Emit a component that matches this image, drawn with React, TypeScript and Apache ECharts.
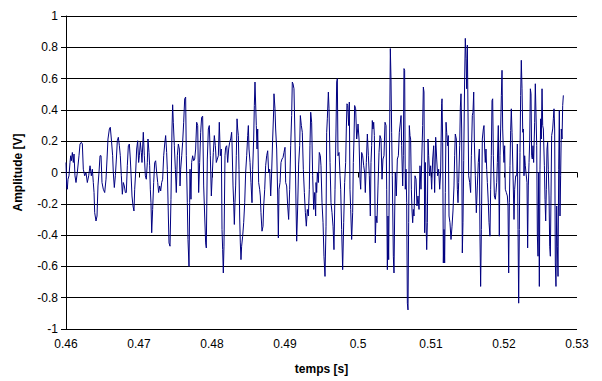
import React, { useEffect, useRef } from "react";
import * as echarts from "echarts";

// Signal samples: [time (s), amplitude (V)]
const seg1: [number, number][] = [
  [0.46, 0.064], [0.46009, -0.086], [0.46018, -0.107], [0.46027, -0.043], [0.46041, -0.021], [0.46055, 0.064],
  [0.46064, 0.107], [0.46073, 0.075], [0.46087, 0.128], [0.461, 0.064], [0.4611, 0.118], [0.46123, -0.021],
  [0.46137, -0.064], [0.46155, 0], [0.46178, 0.107], [0.46192, 0.182], [0.4621, 0.193], [0.46224, 0.182],
  [0.46237, 0.021], [0.46256, -0.021], [0.46274, 0], [0.46292, -0.064], [0.46311, -0.021], [0.46329, 0.043],
  [0.46347, -0.021], [0.46361, 0.021], [0.46374, -0.064], [0.46384, -0.128], [0.46393, -0.257], [0.46411, -0.31],
  [0.46425, -0.278], [0.46438, -0.086], [0.46452, 0], [0.46466, 0.107], [0.4648, 0.107], [0.46493, -0.064],
  [0.46511, -0.107], [0.4653, -0.128], [0.46548, -0.043],
];
const seg2: [number, number][] = [
  [0.46562, 0.086], [0.46575, 0.214], [0.46594, 0.278], [0.46607, 0.289], [0.46621, 0.214], [0.46639, 0.107],
  [0.46648, 0], [0.46662, -0.096], [0.46676, -0.021], [0.4669, 0.086], [0.46703, 0.203], [0.46717, 0.225],
  [0.46731, 0.171], [0.46744, 0.107], [0.46758, -0.021], [0.46772, -0.139], [0.46785, -0.064], [0.46799, -0.086],
  [0.46813, -0.128], [0.46826, -0.128], [0.4684, 0.043], [0.46854, 0.171], [0.46868, 0.182], [0.46881, 0.086],
  [0.4689, 0], [0.46904, -0.15], [0.46918, -0.214], [0.46931, -0.246], [0.46941, -0.107], [0.46954, 0],
  [0.46968, 0.15], [0.46982, 0.203], [0.46995, 0.064], [0.47005, 0.107], [0.47018, 0.193], [0.47032, 0.128],
  [0.47041, 0.064], [0.47059, 0.257], [0.47073, 0.107], [0.47087, -0.021], [0.471, -0.043], [0.47114, 0.064],
];
const seg3: [number, number][] = [
  [0.47123, 0.214], [0.47137, 0.128], [0.47146, 0.043], [0.47155, -0.107], [0.47164, -0.193], [0.47174, -0.385],
  [0.47187, -0.236], [0.47201, -0.064], [0.47215, 0.064], [0.47228, 0.075], [0.47242, 0], [0.47256, -0.064],
  [0.47269, -0.128], [0.47283, -0.086], [0.47297, -0.118], [0.47311, -0.064], [0.47324, -0.043], [0.47338, 0.107],
  [0.47352, 0.182], [0.47365, 0.236], [0.47379, 0.128], [0.47388, 0.021], [0.47402, -0.278], [0.47411, -0.45],
  [0.47425, -0.471], [0.47438, -0.171], [0.47452, 0.278], [0.47461, 0.433], [0.4747, 0.321], [0.47484, 0.171],
  [0.47498, 0.021], [0.47511, -0.128], [0.47525, 0.107], [0.47539, 0.182], [0.47553, 0.15], [0.47562, -0.086],
  [0.47571, 0.021], [0.47585, 0.107], [0.47598, 0.193], [0.47612, 0.321], [0.47626, 0.471], [0.47639, 0.482],
  [0.47648, 0.107], [0.47662, -0.193], [0.47671, -0.428], [0.47685, -0.6], [0.47694, -0.193],
];
const seg4: [number, number][] = [
  [0.47699, 0.021], [0.47712, -0.171], [0.47721, 0.064], [0.47735, 0.107], [0.47749, 0.075], [0.47763, 0.086],
  [0.47776, 0.15], [0.4779, 0.321], [0.47804, 0.3], [0.47817, -0.128], [0.47831, 0.064], [0.47845, 0.257],
  [0.47858, 0.353], [0.47872, 0.36], [0.47886, -0.086], [0.479, -0.278], [0.47913, -0.45], [0.47922, -0.482],
  [0.47936, 0.086], [0.4795, 0.278], [0.47963, 0.3], [0.47977, 0.107], [0.47991, -0.15], [0.48005, 0],
  [0.48018, 0.128], [0.48032, 0.236], [0.48046, 0.171], [0.48059, 0.064], [0.48073, 0.086], [0.48087, 0.107],
  [0.481, 0.321], [0.48114, 0.107], [0.48128, 0.15], [0.48137, -0.364], [0.48146, -0.493], [0.48155, -0.642],
  [0.48164, -0.471], [0.48178, 0.107], [0.48187, 0.161], [0.48201, 0.171], [0.48215, 0.064], [0.48228, 0.15],
  [0.48242, 0.193], [0.48256, 0.214], [0.48269, 0.257],
];
const seg5: [number, number][] = [
  [0.48274, 0.193], [0.48288, -0.086], [0.48297, -0.193], [0.48306, -0.332], [0.48315, -0.193], [0.48324, -0.086],
  [0.48333, 0.107], [0.48343, 0.343], [0.48352, 0.278], [0.48361, 0.236], [0.4837, 0.021], [0.48379, -0.278],
  [0.48388, -0.45], [0.48397, -0.557], [0.48406, -0.471], [0.4842, -0.407], [0.48434, -0.321], [0.48448, -0.193],
  [0.48461, 0], [0.48475, 0.107], [0.48489, 0.236], [0.48498, 0.3], [0.48507, 0.15], [0.48521, 0.064],
  [0.48534, -0.064], [0.48548, -0.193], [0.48557, 0.021], [0.48571, 0.214], [0.4858, 0.428], [0.48589, 0.578],
  [0.48598, 0.578], [0.48607, 0.3], [0.48617, 0.15], [0.48626, 0.278], [0.48639, -0.064], [0.48653, -0.107],
  [0.48662, -0.15], [0.48671, -0.257], [0.48685, -0.375], [0.48699, -0.343], [0.48708, -0.214], [0.48722, -0.107],
  [0.48735, 0.043], [0.48749, 0.107], [0.48763, 0.139], [0.48776, 0], [0.4879, 0.021], [0.48804, -0.15],
  [0.48817, 0], [0.48831, 0.214], [0.48845, 0.396],
];
const seg6: [number, number][] = [
  [0.48849, 0.503], [0.48863, 0.407], [0.48872, 0.278], [0.48886, 0.15], [0.489, -0.15], [0.48909, -0.418],
  [0.48918, -0.107], [0.48932, -0.064], [0.48945, 0.064], [0.48959, 0.086], [0.48973, 0.096], [0.48986, 0.128],
  [0.49, 0.161], [0.49009, -0.064], [0.49023, -0.086], [0.49037, -0.214], [0.4905, -0.3], [0.49064, -0.107],
  [0.49078, 0.171], [0.49091, 0.364], [0.491, 0.578], [0.4911, 0.567], [0.49123, 0.535], [0.49137, 0.214],
  [0.49151, -0.214], [0.4916, -0.439], [0.49174, -0.214], [0.49187, 0.054], [0.49201, 0.171], [0.4921, 0.364],
  [0.49224, 0.3], [0.49237, 0.257], [0.49251, 0.021], [0.49265, -0.128], [0.49279, -0.257], [0.49292, -0.343],
  [0.49306, -0.236], [0.4932, -0.278], [0.49333, -0.107], [0.49342, 0.171], [0.49352, 0.385], [0.49365, 0.321],
  [0.49379, -0.021], [0.49393, -0.236], [0.49406, -0.128], [0.4942, -0.278],
];
const seg7: [number, number][] = [
  [0.49425, -0.064], [0.49434, -0.128], [0.49443, 0], [0.49457, -0.064], [0.4947, 0.128], [0.49484, 0.107],
  [0.49493, 0.043], [0.49507, -0.193], [0.49521, -0.321], [0.49534, -0.535], [0.49548, -0.664], [0.49562, -0.343],
  [0.49571, 0.257], [0.4958, 0.343], [0.49594, 0.514], [0.49603, 0.407], [0.49617, 0.064], [0.4963, -0.193],
  [0.49644, -0.257], [0.49658, -0.343], [0.49671, -0.493], [0.49685, -0.107], [0.49699, 0.278], [0.49708, 0.578],
  [0.49717, 0.6], [0.49726, 0.107], [0.4974, 0.128], [0.49754, -0.021], [0.49763, -0.107], [0.49776, -0.364],
  [0.4979, -0.621], [0.49804, -0.321], [0.49817, -0.064], [0.49831, 0.064], [0.4984, 0.278], [0.49849, 0.439],
  [0.49859, 0.428], [0.49872, 0.3], [0.49881, 0.45], [0.4989, -0.107], [0.499, -0.236], [0.49913, -0.428],
  [0.49927, -0.257], [0.49936, 0.064], [0.49945, 0.214], [0.49954, 0.428], [0.49968, 0.407], [0.49982, 0.214],
  [0.49996, 0.278],
];
const seg8: [number, number][] = [
  [0.5, 0.31], [0.50014, 0.214], [0.50027, -0.043], [0.50037, -0.107], [0.5005, 0.128], [0.50064, 0.107],
  [0.50078, 0.043], [0.50091, 0], [0.501, -0.128], [0.50114, 0.064], [0.50128, 0.246], [0.50142, 0.107],
  [0.50155, -0.021], [0.50169, -0.278], [0.50178, 0.064], [0.50187, 0.171], [0.50196, 0.332], [0.50205, 0.278],
  [0.50215, 0.321], [0.50224, 0.236], [0.50237, -0.45], [0.50247, -0.278], [0.5026, -0.321], [0.50274, -0.086],
  [0.50288, 0.128], [0.50301, 0.236], [0.50315, 0.214], [0.50329, -0.043], [0.50342, 0.086], [0.50356, 0.107],
  [0.5037, 0.321], [0.50384, 0.3], [0.50393, -0.107], [0.50402, -0.621], [0.50411, -0.278], [0.5042, -0.557],
  [0.50434, 0.278], [0.50443, 0.792], [0.50452, 0.6], [0.50461, 0.257], [0.5047, -0.021], [0.50484, -0.535],
  [0.50493, -0.642], [0.50502, -0.278], [0.50511, 0], [0.50525, -0.15], [0.50539, 0.086], [0.50553, 0.107],
  [0.50566, 0.257],
];
const seg9: [number, number][] = [
  [0.5059, 0.364], [0.50598, 0.171], [0.50612, -0.086], [0.50621, 0.107], [0.5063, 0.664], [0.50639, 0.653],
  [0.50648, -0.107], [0.50658, 0.021], [0.50667, -0.193], [0.50676, -0.835], [0.50685, -0.878], [0.50694, -0.321],
  [0.50703, 0.3], [0.50712, 0.236], [0.50721, 0.214], [0.50731, -0.107], [0.5074, -0.246], [0.50749, -0.321],
  [0.50758, -0.236], [0.50767, -0.278], [0.50781, -0.021], [0.50795, -0.043], [0.50808, -0.214], [0.50822, -0.15],
  [0.50836, -0.236], [0.50849, 0.043], [0.50863, -0.107], [0.50877, 0.15], [0.50886, 0.3], [0.50895, 0.546],
  [0.50904, 0.514], [0.50913, -0.385], [0.50922, 0.064], [0.50932, -0.321], [0.50941, -0.493], [0.5095, -0.321],
  [0.50959, 0.214], [0.50968, 0.107], [0.50982, -0.021], [0.50995, 0.043], [0.51009, -0.107], [0.51023, 0.086],
  [0.51037, 0.171], [0.5105, -0.128], [0.51064, 0.225], [0.51078, 0.086], [0.51091, -0.021], [0.51105, 0.021],
  [0.51119, -0.107], [0.51132, 0], [0.51146, 0.439],
];
const seg10: [number, number][] = [
  [0.51151, 0.471], [0.5116, 0.193], [0.51169, -0.578], [0.51178, -0.364], [0.51187, -0.578], [0.51196, -0.128],
  [0.51206, 0.321], [0.51215, 0.257], [0.51228, 0.171], [0.51237, 0.236], [0.51247, -0.278], [0.5126, -0.321],
  [0.51274, -0.428], [0.51288, -0.343], [0.51301, -0.246], [0.51315, -0.086], [0.51324, 0.107], [0.51333, 0.246],
  [0.51347, 0.214], [0.51361, -0.107], [0.5137, -0.193], [0.51379, -0.064], [0.51393, 0.171], [0.51402, 0.418],
  [0.51411, 0.503], [0.5142, 0.278], [0.51429, -0.514], [0.51438, -0.321], [0.51448, 0.075], [0.51461, 0.6],
  [0.5147, 0.857], [0.5148, 0.728], [0.51489, 0.535], [0.51498, 0.814], [0.51507, 0.385], [0.51516, -0.021],
  [0.5153, -0.064], [0.51543, -0.128], [0.51553, 0.107], [0.51566, 0.364], [0.51575, 0.385], [0.51585, 0.514],
  [0.51594, 0.193], [0.51607, -0.021], [0.51621, -0.257], [0.51635, -0.086], [0.51648, 0.064], [0.51662, 0.15],
  [0.51671, -0.407], [0.5168, -0.728], [0.5169, -0.364], [0.51703, 0.214], [0.51717, 0.278],
];
const seg11: [number, number][] = [
  [0.51726, 0.3], [0.51735, 0.15], [0.51744, 0.064], [0.51753, 0.15], [0.51763, 0.021], [0.51772, -0.064],
  [0.51785, -0.193], [0.51795, -0.321], [0.51808, -0.407], [0.51817, -0.107], [0.51826, 0.107], [0.51836, 0.46],
  [0.51845, 0.471], [0.51854, 0.107], [0.51868, -0.15], [0.51881, -0.171], [0.5189, -0.128], [0.519, -0.064],
  [0.51909, 0.064], [0.51922, 0.3], [0.51936, -0.407], [0.51945, 0.107], [0.51954, 0.278], [0.51964, 0.493],
  [0.51973, 0.653], [0.51982, 0.278], [0.51991, 0.15], [0.52, 0.064], [0.52009, 0.171], [0.52018, -0.107],
  [0.52032, -0.128], [0.52046, -0.15], [0.52055, -0.214], [0.52064, -0.642], [0.52073, -0.193], [0.52082, 0.043],
  [0.52091, 0.268], [0.521, 0.407], [0.5211, 0.257], [0.52123, 0], [0.52137, -0.3], [0.52146, -0.107],
  [0.5216, -0.021], [0.52174, -0.021], [0.52183, 0.182], [0.52192, -0.364], [0.52201, -0.835], [0.5221, -0.364],
  [0.52219, 0.128], [0.52228, 0.493], [0.52237, 0.717], [0.52247, 0.535], [0.52257, 0.257], [0.52265, 0.278],
  [0.52274, -0.021], [0.52283, 0.107], [0.52292, 0.043],
];
const seg12: [number, number][] = [
  [0.52301, 0], [0.52315, -0.064], [0.52324, -0.482], [0.52333, -0.086], [0.52343, 0.064], [0.52352, 0.203],
  [0.52361, 0.535], [0.5237, 0.503], [0.52379, 0.107], [0.52388, 0.086], [0.52397, 0.171], [0.52406, 0.064],
  [0.5242, 0.321], [0.52429, 0.567], [0.52438, 0.567], [0.52448, 0.171], [0.52457, -0.407], [0.52466, -0.535],
  [0.52475, 0], [0.52484, -0.728], [0.52493, 0.021], [0.52502, 0.343], [0.52511, 0.214], [0.52521, 0.535],
  [0.5253, 0.3], [0.52539, 0.278], [0.52553, 0.043], [0.52562, -0.171], [0.52571, -0.31], [0.5258, -0.107],
  [0.52589, 0.15], [0.52598, 0.193], [0.52607, 0.021], [0.52617, -0.15], [0.52626, -0.471], [0.52635, -0.535],
  [0.52644, -0.15], [0.52653, 0.236], [0.52667, 0.278], [0.52676, 0.343], [0.52685, 0.407], [0.52694, 0.278],
  [0.52703, -0.578], [0.52712, -0.728], [0.52722, -0.214], [0.52731, -0.471], [0.5274, -0.664], [0.52749, 0.021],
  [0.52758, 0.396], [0.52767, -0.278], [0.52776, -0.021], [0.52785, 0.278], [0.52795, 0.214], [0.52804, 0.428],
  [0.52813, 0.493],
];

const xMin = 0.46;
const xMax = 0.53;
const xStep = 0.01;
const yMin = -1;
const yMax = 1;
const yStep = 0.2;
const xTitle = "temps [s]";
const yTitle = "Amplitude [V]";

export default function App() {
  const ref = useRef<HTMLDivElement>(null);
  useEffect(() => {
    document.body.style.margin = "0";
    if (!ref.current) return;
    const chart = echarts.init(ref.current, undefined, { renderer: "svg" });
    const data = [
      ...seg1, ...seg2, ...seg3, ...seg4, ...seg5, ...seg6,
      ...seg7, ...seg8, ...seg9, ...seg10, ...seg11, ...seg12,
    ];
    const font = "Arial, 'Liberation Sans', sans-serif";
    chart.setOption({
      animation: false,
      backgroundColor: "#ffffff",
      grid: { left: 66, right: 25, top: 16, bottom: 52, containLabel: false },
      xAxis: {
        type: "value",
        min: xMin,
        max: xMax,
        interval: xStep,
        name: xTitle,
        nameLocation: "middle",
        nameGap: 34,
        nameTextStyle: { fontFamily: font, fontSize: 12, fontWeight: "bold", color: "#000" },
        axisLine: { show: true, lineStyle: { color: "#000", width: 1 } },
        axisTick: { show: true, inside: false, length: 5, lineStyle: { color: "#000" } },
        axisLabel: { fontFamily: font, fontSize: 12, color: "#000", margin: 9 },
        splitLine: { show: false },
      },
      yAxis: {
        type: "value",
        min: yMin,
        max: yMax,
        interval: yStep,
        name: yTitle,
        nameLocation: "middle",
        nameGap: 42,
        nameRotate: 90,
        nameTextStyle: { fontFamily: font, fontSize: 12, fontWeight: "bold", color: "#000" },
        axisLine: { show: true, lineStyle: { color: "#000", width: 1 } },
        axisTick: { show: true, inside: false, length: 5, lineStyle: { color: "#000" } },
        axisLabel: { fontFamily: font, fontSize: 12, color: "#000", margin: 8 },
        splitLine: { show: true, lineStyle: { color: "#000", width: 1 } },
      },
      series: [
        {
          type: "line",
          data,
          showSymbol: false,
          symbol: "none",
          lineStyle: { color: "#000080", width: 1 },
          itemStyle: { color: "#000080" },
        },
      ],
    });
    return () => chart.dispose();
  }, []);
  return <div ref={ref} style={{ width: 602, height: 381 }} />;
}
